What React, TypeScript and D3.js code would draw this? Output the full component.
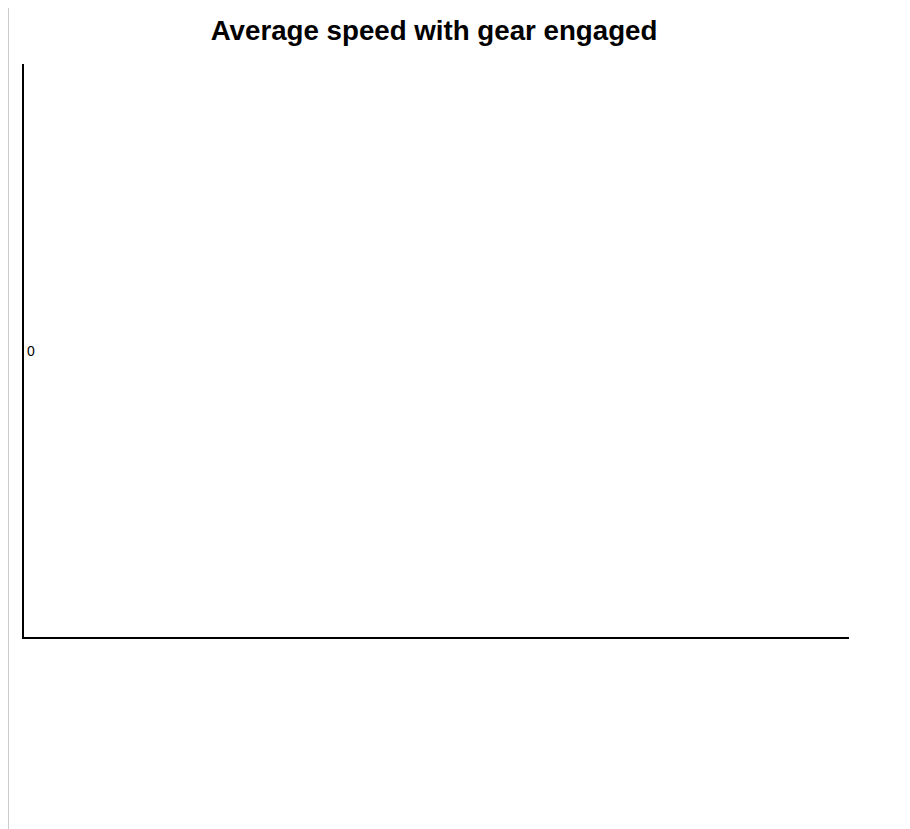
import React, { useEffect, useRef } from "react";
import * as d3 from "d3";

const categories: string[] = [];
const speedValues: number[] = [];
const titleText = "Average speed with gear engaged";

export default function App() {
  const ref = useRef<SVGSVGElement | null>(null);

  useEffect(() => {
    const svg = d3.select(ref.current);
    svg.selectAll("*").remove();
    const width = 893;
    const height = 822;
    const left = 14;
    const right = 840;
    const top = 57;
    const bottom = 631;

    const x = d3.scaleBand<string>().domain(categories).range([left, right]).padding(0.2);
    const maxV = d3.max(speedValues) ?? 0;
    const minV = Math.min(0, d3.min(speedValues) ?? 0);
    const y = d3.scaleLinear().domain([minV, maxV]).range([bottom, top]);

    svg.attr("width", width).attr("height", height);

    svg
      .append("text")
      .attr("x", 425)
      .attr("y", 32.5)
      .attr("text-anchor", "middle")
      .attr("font-family", "Liberation Sans, Arial, sans-serif")
      .attr("font-size", 27.7)
      .attr("font-weight", "bold")
      .attr("fill", "#000")
      .text(titleText);

    svg
      .selectAll("rect.bar")
      .data(speedValues)
      .enter()
      .append("rect")
      .attr("class", "bar")
      .attr("x", (_, i) => x(categories[i]) ?? 0)
      .attr("width", x.bandwidth())
      .attr("y", (d) => y(d))
      .attr("height", (d) => y(0) - y(d))
      .attr("fill", "steelblue");

    const ticks = y.ticks(5);
    svg
      .selectAll("text.ytick")
      .data(ticks)
      .enter()
      .append("text")
      .attr("class", "ytick")
      .attr("x", left + 4)
      .attr("y", (d) => y(d))
      .attr("dy", "0.35em")
      .attr("font-family", "Liberation Sans, Arial, sans-serif")
      .attr("font-size", 14)
      .attr("fill", "#000")
      .text((d) => d3.format("d")(d));

    svg
      .append("line")
      .attr("x1", left)
      .attr("x2", left)
      .attr("y1", top)
      .attr("y2", bottom + 1)
      .attr("stroke", "#000")
      .attr("stroke-width", 2);
    svg
      .append("line")
      .attr("x1", left)
      .attr("x2", right)
      .attr("y1", bottom)
      .attr("y2", bottom)
      .attr("stroke", "#000")
      .attr("stroke-width", 2);
  }, []);

  return (
    <div style={{ borderLeft: "1px solid #ccc", height: 822, marginTop: -1 }}>
      <svg ref={ref} style={{ display: "block" }} />
    </div>
  );
}
